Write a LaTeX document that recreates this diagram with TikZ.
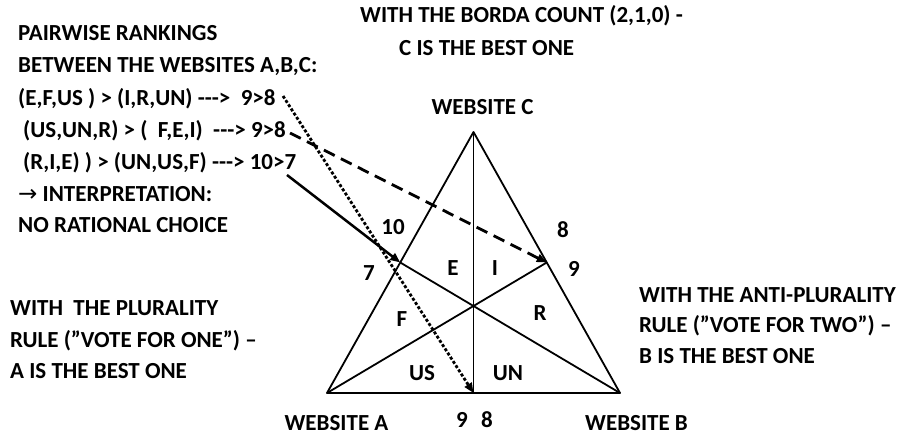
\documentclass[tikz,border=0pt]{standalone}
\usepackage{fontspec}
\setmainfont{Carlito}
\newfontfamily\arrowfont{DejaVu Sans}
\usetikzlibrary{arrows.meta,calc}
\tikzset{
  txt/.style={font=\fontsize{23}{28}\selectfont\bfseries, inner sep=0pt, anchor=base west},
  lab/.style={font=\fontsize{23}{28}\selectfont\bfseries, inner sep=0pt, anchor=center},
  edge/.style={line width=1.8pt, line join=round},
  tip/.style={-{Triangle[length=10pt,width=8pt]}},
}
\newcommand{\dsh}{-\kern0pt-\kern0pt-}
\begin{document}
\begin{tikzpicture}[x=1pt,y=-1pt]
\useasboundingbox (0,0) rectangle (897,436);
% triangle
\coordinate (A) at (327,393);
\coordinate (B) at (620,393);
\coordinate (C) at (473.5,132);
\coordinate (M) at ($(A)!0.5!(B)$);
\coordinate (P) at ($(A)!0.5!(C)$);
\coordinate (Q) at ($(B)!0.5!(C)$);
\draw[edge] (A) -- (B) -- (C) -- cycle;
\draw[edge] (C) -- (M);
\draw[edge] (A) -- (Q);
\draw[edge] (B) -- (P);
% text blocks
\node[txt] (t1) at (18,41) {PAIRWISE RANKINGS};
\node[txt] (t2) at (18,73) {BETWEEN THE WEBSITES A,B,C:};
\node[txt] (t3) at (18,105) {(E,F,US ) > (I,R,UN) \dsh>\ \ 9>8};
\node[txt] (t4) at (23,137) {(US,UN,R) > (\ \ F,E,I)\ \ \dsh> 9>8};
\node[txt] (t5) at (23,169) {(R,I,E) ) > (UN,US,F) \dsh> 10>7};
\node[txt] (t6) at (18,201) {{\arrowfont\mdseries →} INTERPRETATION:};
\node[txt] (t7) at (18,232) {NO RATIONAL CHOICE};
\node[txt] (b1) at (360,22.5) {WITH THE BORDA COUNT (2,1,0) -};
\node[txt] (b2) at (399,55.5) {C IS THE BEST ONE};
\node[lab] (wc) at (482.5,107) {WEBSITE C};
\node[txt] (p1) at (10,315.5) {WITH\ \ THE PLURALITY};
\node[txt] (p2) at (10,347.5) {RULE (”VOTE FOR ONE”) –};
\node[txt] (p3) at (10,378.5) {A IS THE BEST ONE};
\node[txt] (r1) at (639,302) {WITH THE ANTI-PLURALITY};
\node[txt] (r2) at (639,332.5) {RULE (”VOTE FOR TWO”) –};
\node[txt] (r3) at (639,363.5) {B IS THE BEST ONE};
\node[lab] (wa) at (336.5,423) {WEBSITE A};
\node[txt] (wb) at (585,430.5) {WEBSITE B};
% region labels
\node[lab] (lE) at (453,268) {E};
\node[lab] (lI) at (495,268) {I};
\node[lab] (lF) at (402,319) {F};
\node[lab] (lR) at (540,313) {R};
\node[lab] (lUS) at (422,373) {US};
\node[lab] (lUN) at (508,373) {UN};
\node[lab] (n10) at (393,227) {10};
\node[lab] (n7) at (369,273) {7};
\node[lab] (n8) at (563,230) {8};
\node[lab] (n9) at (574,269) {9};
\node[lab] (m9) at (462,420) {9};
\node[lab] (m8) at (487,420) {8};
% arrows
\coordinate (s1) at (283,96);
\coordinate (s2) at (290,133);
\coordinate (s3) at (287,175);
\draw[tip, line width=2.8pt, dash pattern=on 3pt off 2pt] (s1) -- (M);
\draw[tip, line width=2.8pt, dash pattern=on 12pt off 7pt] (s2) -- (Q);
\draw[tip, line width=2.5pt] (s3) -- (P);
\end{tikzpicture}
\end{document}
